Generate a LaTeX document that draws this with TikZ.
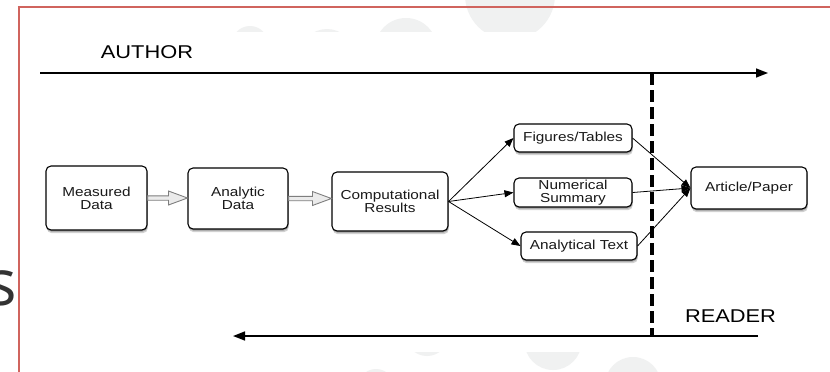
\documentclass[tikz,border=0pt]{standalone}
\usepackage{fontspec}
\newfontfamily\dfont{Liberation Sans}[FakeStretch=1.18]
\newfontfamily\slidefont{Open Sans}
\usetikzlibrary{arrows.meta,shadows,calc}
\definecolor{framered}{HTML}{D0645E}
\definecolor{bgdot}{HTML}{F0F1F1}
\definecolor{hollowgray}{HTML}{7E7E7E}
% hollow block arrow between two points on the same horizontal line
\newcommand\hollowarrow[2]{%
  \draw[hollow] ($(#1)+(0,-2.2)$) -- ($(#2)+(-19,-2.2)$) -- ($(#2)+(-19,-7)$) -- (#2)
    -- ($(#2)+(-19,7)$) -- ($(#2)+(-19,2.2)$) -- ($(#1)+(0,2.2)$) -- cycle;}
\begin{document}
\begin{tikzpicture}[x=1pt,y=-1pt,
  box/.style={draw=black, line width=1.1pt, rounded corners=5pt, fill=white,
    align=center, inner sep=0pt, text=black!90,
    font=\dfont\fontsize{13}{13}\selectfont,
    drop shadow={shadow xshift=0.4pt, shadow yshift=-1.6pt, opacity=0.25, fill=black},
    drop shadow={shadow xshift=0.8pt, shadow yshift=-3.2pt, opacity=0.18, fill=black}},
  flow/.style={line width=0.8pt, -{Triangle[length=9pt,width=7pt]}},
  timeline/.style={line width=1.6pt, -{Triangle[length=12pt,width=9pt]}},
  hollow/.style={draw=hollowgray, fill=black!8, line width=0.9pt, line join=miter},
  lbl/.style={font=\dfont\fontsize{18.5}{18.5}\selectfont, inner sep=0pt, text=black},
]
\useasboundingbox (0,0) rectangle (830,372);
% slide background with its decorative dots
\fill[white] (0,0) rectangle (830,372);
\fill[bgdot] (250,44) circle (18) (327,56.5) circle (27.5) (406,49) circle (31)
  (510,-5) circle (45) (427,334.5) circle (21.5) (553,341.5) circle (28.5)
  (633,385) circle (28) (376,387) circle (18);
\fill[white] (19,32) rectangle (830,352);
\draw[framered, line width=1.6pt] (18.7,372) -- (18.7,6.5);
\draw[framered, line width=2pt] (17.9,6.5) -- (830,6.5);
\node[anchor=base east, inner sep=0pt, font=\slidefont\fontsize{64}{64}\selectfont,
  text=black!80] (slideletter) at (17.5,305) {s};

% processing chain
\node[box, minimum width=101pt, minimum height=64pt] (md) at (96.5,198) {Measured\\Data};
\node[box, minimum width=100pt, minimum height=61pt] (ad) at (238,198.5) {Analytic\\Data};
\node[box, minimum width=116pt, minimum height=59pt] (cr) at (390,201.5) {Computational\\Results};
\node[box, minimum width=118pt, minimum height=28pt] (ft) at (573,138) {Figures/Tables};
\node[box, minimum width=118pt, minimum height=29pt] (ns) at (573,192.5) {Numerical\\Summary};
\node[box, minimum width=116pt, minimum height=28pt] (at) at (579,246) {Analytical Text};
\node[box, minimum width=116pt, minimum height=42pt] (ap) at (749,188) {Article/Paper};

\coordinate (h1e) at (ad.west |- md.east);
\hollowarrow{md.east}{h1e}
\coordinate (h2e) at (cr.west |- ad.east);
\hollowarrow{ad.east}{h2e}

\draw[flow] (cr.east) -- (ft.west);
\draw[flow] (cr.east) -- (ns.west);
\draw[flow] (cr.east) -- (at.west);
\draw[flow] (ft.east) -- (ap.west);
\draw[flow] (ns.east) -- (ap.west);
\draw[flow] (at.east) -- (ap.west);

% author / reader timelines and the divider
\coordinate (authorstart) at (40,73);
\coordinate (authorend) at (768,73);
\coordinate (readerstart) at (758,336);
\coordinate (readerend) at (233,336);
\coordinate (divtop) at (652,73);
\coordinate (divbot) at (652,336);
\draw[timeline] (authorstart) -- (authorend);
\draw[timeline] (readerstart) -- (readerend);
\draw[line width=3.2pt, dash pattern=on 12pt off 5pt] (divtop) -- (divbot);
\node[lbl] (author) at (147,52) {AUTHOR};
\node[lbl] (reader) at (730.5,316) {READER};
\end{tikzpicture}
\end{document}
